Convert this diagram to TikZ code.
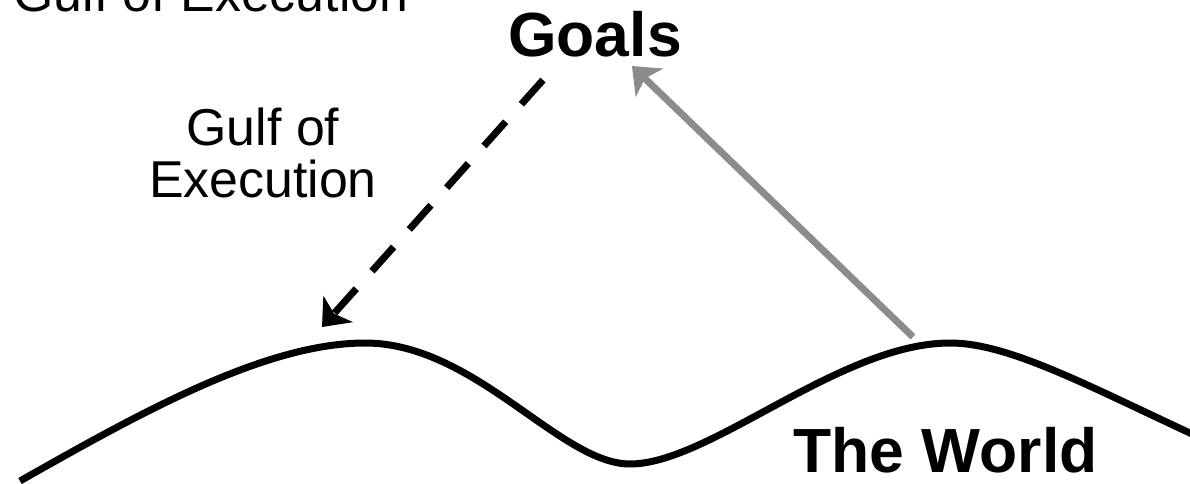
\documentclass[tikz,border=0pt]{standalone}
\usepackage{fontspec}
\setmainfont{Liberation Sans}
\usetikzlibrary{arrows.meta}

\tikzset{
  title/.style={font=\fontsize{35.5pt}{36pt}\selectfont\bfseries,inner sep=0pt},
  gulftext/.style={font=\fontsize{29.5pt}{29.5pt}\selectfont,inner sep=0pt},
}

\begin{document}
\begin{tikzpicture}[>={Stealth[length=0.48cm,width=0.78cm,inset=0.12cm]},line width=0.14cm]

\useasboundingbox (0,0) rectangle (23.8,9.66);

\def\top{2.8}
\def\low{0.38}

\draw (0.4,0.04) .. controls (2.8,1.4) and (5.3,\top) .. (7.3,\top)
	.. controls (9.5,\top) and (11.2,\low) .. (12.6,\low)
	.. controls (14.2,\low) and (16.8,\top) .. (19.0,\top)
	.. controls (20.2,\top) and (21.8,1.92) .. (24.1,0.86);

\node[title,anchor=base] (goals) at (11.9,8.52) {Goals};
\node[title,anchor=base] (world) at (18.91,0.22) {The World};
\node[gulftext,anchor=base,align=center] (gulf) at (5.26,5.72) {Gulf of\\Execution};
\node[gulftext,anchor=base west] (gulfcut) at (0.2,9.42) {Gulf of Execution};

\coordinate (dashfrom) at (10.86,8.06);
\coordinate (hillL) at (6.44,3.12);
\coordinate (hillR) at (18.26,2.92);
\coordinate (aim) at (12.64,8.34);

\draw[->,dash pattern=on 0.65cm off 0.47cm] (dashfrom) -- (hillL);
\draw[->,color=black!45] (hillR) -- (aim);

\end{tikzpicture}
\end{document}
